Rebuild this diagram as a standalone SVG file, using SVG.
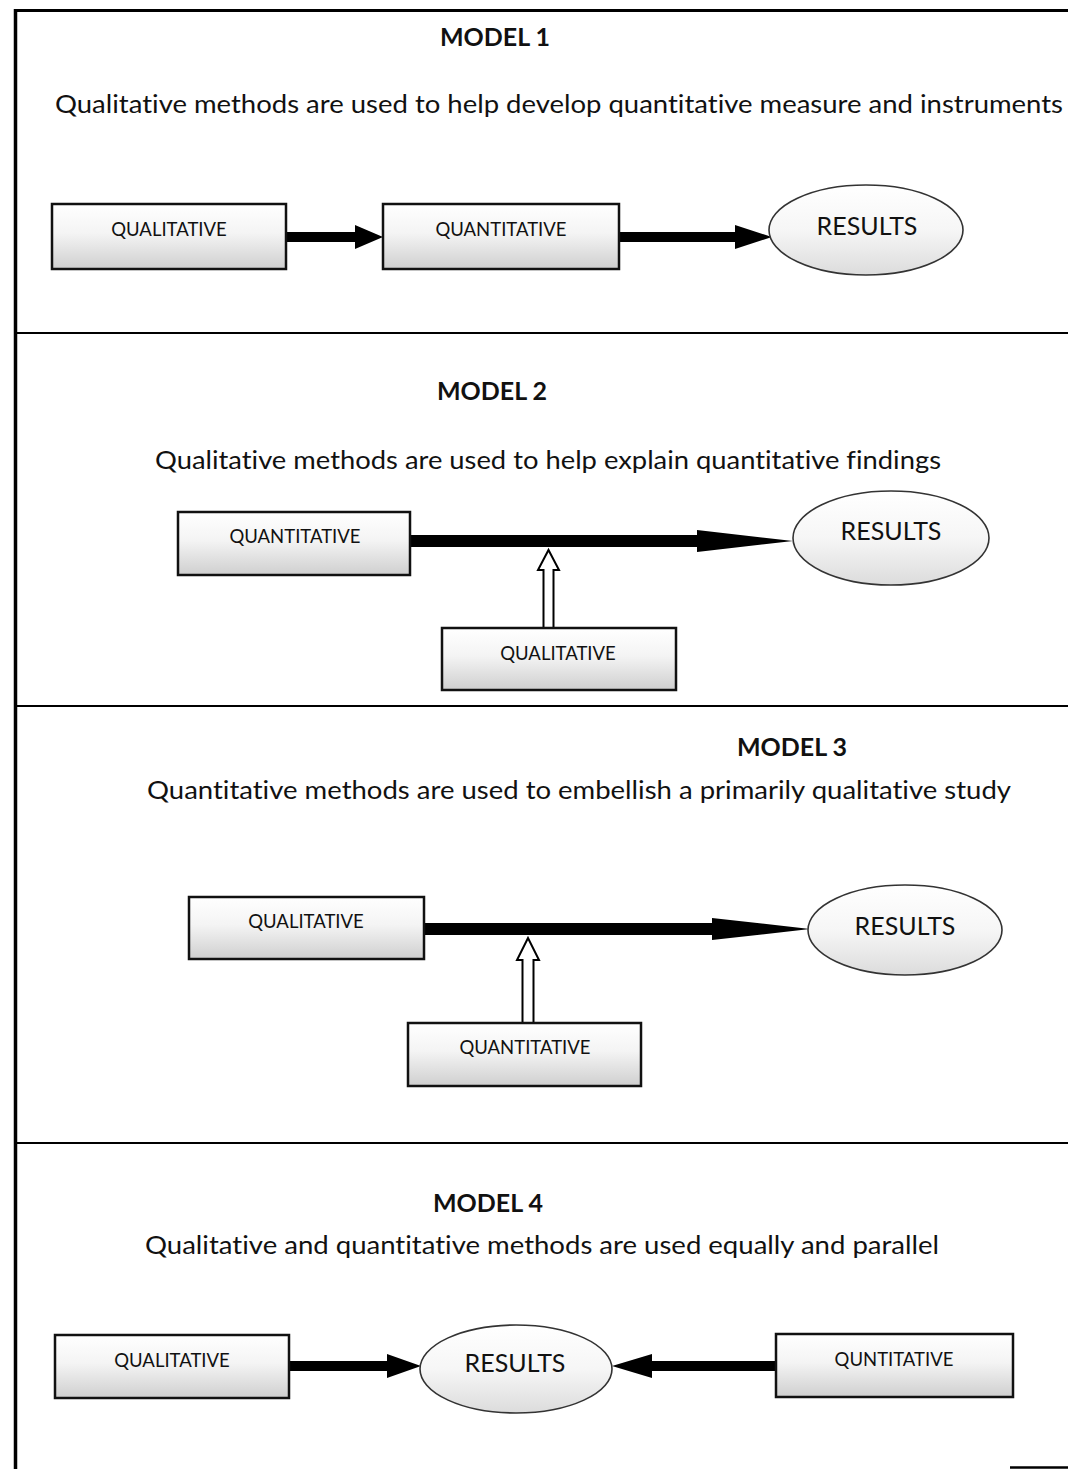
<svg xmlns="http://www.w3.org/2000/svg" width="1068" height="1469" viewBox="0 0 1068 1469">
  <defs>
    <linearGradient id="boxFill" x1="0" y1="0" x2="0" y2="1">
      <stop offset="0" stop-color="#ffffff"/>
      <stop offset="0.45" stop-color="#f4f4f4"/>
      <stop offset="1" stop-color="#cfcfcf"/>
    </linearGradient>
    <linearGradient id="ovalFill" x1="0" y1="0" x2="0" y2="1">
      <stop offset="0" stop-color="#ffffff"/>
      <stop offset="0.5" stop-color="#f6f6f6"/>
      <stop offset="1" stop-color="#dcdcdc"/>
    </linearGradient>
    <style>
      text { font-variant-ligatures: none; font-feature-settings: "liga" 0; }
      .frame { stroke: #000; fill: none; }
      .box { fill: url(#boxFill); stroke: #111; stroke-width: 2.5; }
      .oval { fill: url(#ovalFill); stroke: #333; stroke-width: 1.6; }
      .title { font-family: Lato, "Liberation Sans", sans-serif; font-weight: bold; font-size: 25px; fill: #111; text-anchor: middle; }
      .sub { font-family: Lato, "Liberation Sans", sans-serif; font-size: 25px; fill: #111; }
      .lbl { font-family: Lato, "Liberation Sans", sans-serif; font-size: 18.5px; fill: #111; text-anchor: middle; }
      .res { font-family: Lato, "Liberation Sans", sans-serif; font-size: 25px; fill: #111; text-anchor: middle; }
      .solid { fill: #000; stroke: none; }
      .hollow { fill: #fff; stroke: #000; stroke-width: 2; stroke-linejoin: miter; }
    </style>
  </defs>

  <rect width="1068" height="1469" fill="#fff"/>

  <!-- outer frame and section dividers -->
  <g id="frame">
    <line class="frame" x1="15.5" y1="9" x2="15.5" y2="1469" stroke-width="3.5"/>
    <line class="frame" x1="14" y1="10.5" x2="1068" y2="10.5" stroke-width="3"/>
    <line class="frame" x1="14" y1="333" x2="1068" y2="333" stroke-width="2.2"/>
    <line class="frame" x1="14" y1="706" x2="1068" y2="706" stroke-width="2"/>
    <line class="frame" x1="14" y1="1143" x2="1068" y2="1143" stroke-width="2"/>
    <line class="frame" x1="1010" y1="1467.5" x2="1068" y2="1467.5" stroke-width="2.5"/>
  </g>

  <!-- section headings -->
  <g id="headings">
    <text class="title" x="495" y="46">MODEL 1</text>
    <text class="sub" x="55" y="113" textLength="1008" lengthAdjust="spacingAndGlyphs">Qualitative methods are used to help develop quantitative measure and instruments</text>
    <text class="title" x="492" y="400">MODEL 2</text>
    <text class="sub" x="155" y="469" textLength="786" lengthAdjust="spacingAndGlyphs">Qualitative methods are used to help explain quantitative findings</text>
    <text class="title" x="792" y="756">MODEL 3</text>
    <text class="sub" x="147" y="799" textLength="864" lengthAdjust="spacingAndGlyphs">Quantitative methods are used to embellish a primarily qualitative study</text>
    <text class="title" x="488" y="1212">MODEL 4</text>
    <text class="sub" x="145" y="1254" textLength="794" lengthAdjust="spacingAndGlyphs">Qualitative and quantitative methods are used equally and parallel</text>
  </g>

  <!-- connectors -->
  <g id="connectors">
    <!-- model 1 -->
    <polygon class="solid" points="286,232 355,232 355,225 383,237 355,249 355,242 286,242"/>
    <polygon class="solid" points="619,232 735,232 735,225 772,237 735,249 735,242 619,242"/>
    <!-- model 2 -->
    <polygon class="solid" points="410,535 697,535 697,530 793,541 697,552 697,547 410,547"/>
    <polygon class="hollow" points="543.5,628 543.5,570 538,570 548.5,550 559,570 553.5,570 553.5,628"/>
    <!-- model 3 -->
    <polygon class="solid" points="423,923 712,923 712,918 810,929 712,940 712,935 423,935"/>
    <polygon class="hollow" points="522.5,1023 522.5,960 517,960 528,938 539,960 533.5,960 533.5,1023"/>
    <!-- model 4 -->
    <polygon class="solid" points="289,1361 387,1361 387,1354 421,1366 387,1378 387,1371 289,1371"/>
    <polygon class="solid" points="776,1361 652,1361 652,1354 612,1366 652,1378 652,1371 776,1371"/>
  </g>

  <!-- model 1 nodes -->
  <g id="m1-qualitative">
    <rect class="box" x="52" y="204" width="234" height="65"/>
    <text class="lbl" x="169" y="236">QUALITATIVE</text>
  </g>
  <g id="m1-quantitative">
    <rect class="box" x="383" y="204" width="236" height="65"/>
    <text class="lbl" x="501" y="236">QUANTITATIVE</text>
  </g>
  <g id="m1-results">
    <ellipse class="oval" cx="866" cy="230" rx="97" ry="45"/>
    <text class="res" x="867" y="235">RESULTS</text>
  </g>

  <!-- model 2 nodes -->
  <g id="m2-quantitative">
    <rect class="box" x="178" y="512" width="232" height="63"/>
    <text class="lbl" x="295" y="543">QUANTITATIVE</text>
  </g>
  <g id="m2-qualitative">
    <rect class="box" x="442" y="628" width="234" height="62"/>
    <text class="lbl" x="558" y="660">QUALITATIVE</text>
  </g>
  <g id="m2-results">
    <ellipse class="oval" cx="891" cy="538" rx="98" ry="47"/>
    <text class="res" x="891" y="540">RESULTS</text>
  </g>

  <!-- model 3 nodes -->
  <g id="m3-qualitative">
    <rect class="box" x="189" y="897" width="235" height="62"/>
    <text class="lbl" x="306" y="928">QUALITATIVE</text>
  </g>
  <g id="m3-quantitative">
    <rect class="box" x="408" y="1023" width="233" height="63"/>
    <text class="lbl" x="525" y="1054">QUANTITATIVE</text>
  </g>
  <g id="m3-results">
    <ellipse class="oval" cx="905" cy="930" rx="97" ry="45"/>
    <text class="res" x="905" y="935">RESULTS</text>
  </g>

  <!-- model 4 nodes -->
  <g id="m4-qualitative">
    <rect class="box" x="55" y="1335" width="234" height="63"/>
    <text class="lbl" x="172" y="1367">QUALITATIVE</text>
  </g>
  <g id="m4-results">
    <ellipse class="oval" cx="516" cy="1369" rx="96" ry="44"/>
    <text class="res" x="515" y="1372">RESULTS</text>
  </g>
  <g id="m4-quntitative">
    <rect class="box" x="776" y="1334" width="237" height="63"/>
    <text class="lbl" x="894" y="1366">QUNTITATIVE</text>
  </g>
</svg>
